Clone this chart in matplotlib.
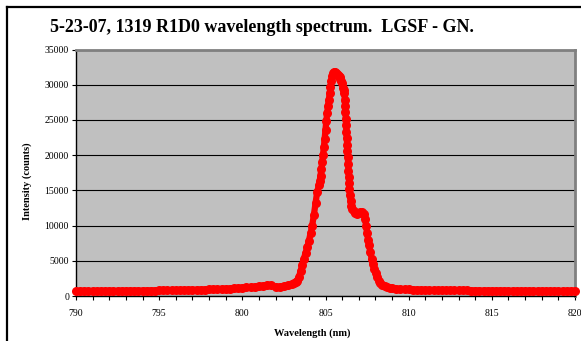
import numpy as np
import matplotlib.pyplot as plt
from matplotlib.lines import Line2D
from matplotlib.ticker import MultipleLocator

plt.rcParams['font.family'] = ['Liberation Serif', 'DejaVu Serif']

# wavelength (nm) and intensity (counts)
wavelength = [
    790.00, 790.25, 790.50, 790.75, 791.00, 791.25, 791.50, 791.75,
    792.00, 792.25, 792.50, 792.75, 793.00, 793.25, 793.50, 793.75,
    794.00, 794.25, 794.50, 794.75, 795.00, 795.25, 795.50, 795.75,
    796.00, 796.25, 796.50, 796.75, 797.00, 797.25, 797.50, 797.75,
    798.00, 798.25, 798.50, 798.75, 799.00, 799.25, 799.50, 799.75,
    800.00, 800.25, 800.50, 800.75, 801.00, 801.25, 801.50, 801.75,
    802.00, 802.25, 802.50, 802.75,
    803.00, 803.10, 803.20, 803.30, 803.40, 803.50, 803.60, 803.70,
    803.80, 803.90, 804.00, 804.10, 804.20, 804.30, 804.40, 804.50,
    804.60, 804.65, 804.70, 804.75, 804.80, 804.85, 804.90, 804.95,
    805.00, 805.05, 805.10, 805.15, 805.20, 805.25, 805.30, 805.35,
    805.40, 805.45, 805.50, 805.55, 805.60, 805.65, 805.70, 805.75,
    805.80, 805.85, 805.90, 805.95, 806.00, 806.05, 806.10,
    806.14, 806.16, 806.18, 806.20, 806.22, 806.24, 806.26, 806.28,
    806.30, 806.32, 806.34, 806.36, 806.38, 806.40, 806.42, 806.44,
    806.47, 806.51, 806.56, 806.62, 806.70, 806.80, 806.90, 807.00,
    807.10, 807.20, 807.30, 807.38, 807.44, 807.50, 807.56, 807.62,
    807.70, 807.78, 807.86, 807.94, 808.02, 808.10, 808.20, 808.30,
    808.40, 808.55, 808.70, 808.85, 809.00,
    809.25, 809.50, 809.75, 810.00, 810.25, 810.50, 810.75, 811.00,
    811.25, 811.50, 811.75, 812.00, 812.25, 812.50, 812.75, 813.00,
    813.25, 813.50, 813.75, 814.00, 814.25, 814.50, 814.75, 815.00,
    815.25, 815.50, 815.75, 816.00, 816.25, 816.50, 816.75, 817.00,
    817.25, 817.50, 817.75, 818.00, 818.25, 818.50, 818.75, 819.00,
    819.25, 819.50, 819.75, 820.00,
]
intensity = [
    700, 700, 710, 700, 710, 720, 710, 720,
    730, 720, 730, 740, 740, 750, 740, 760,
    760, 770, 780, 780, 790, 800, 800, 820,
    830, 840, 850, 860, 880, 890, 900, 920,
    940, 960, 980, 1000, 1030, 1060, 1100, 1140,
    1180, 1220, 1270, 1320, 1380, 1460, 1600, 1560,
    1300, 1330, 1400, 1500,
    1700, 1800, 1950, 2200, 2700, 3500, 4400, 5300,
    6100, 6900, 7800, 8900, 10000, 11500, 13200, 14800,
    15700, 16300, 17100, 18000, 19000, 20000, 21100, 22300,
    23600, 24900, 26000, 27000, 27900, 28800, 29700, 30500,
    31200, 31600, 31800, 31800, 31700, 31600, 31500, 31400,
    31300, 31100, 30800, 30500, 30200, 29600, 29200,
    28800, 27900, 27000, 26100, 25200, 24300, 23300, 22400,
    21500, 20600, 19700, 18700, 17800, 16900, 16000, 15200,
    14300, 13500, 12800, 12300, 12000, 11800, 11700, 11800,
    11900, 11900, 11600, 11000, 10000, 8900, 8000, 7200,
    6200, 5300, 4500, 3800, 3200, 2700, 2200, 1850,
    1600, 1400, 1250, 1150, 1100,
    1050, 1000, 970, 940, 920, 900, 880, 870,
    860, 850, 840, 830, 820, 810, 800, 800,
    790, 790, 780, 780, 770, 770, 760, 760,
    760, 750, 750, 750, 740, 740, 740, 740,
    730, 730, 730, 730, 720, 720, 720, 720,
    720, 720, 720, 720,
]

W, H = 581, 341
fig = plt.figure(figsize=(W / 100, H / 100), dpi=100)
ax = fig.add_axes([76 / W, 1 - 296 / H, (575 - 76) / W, (296 - 49.5) / H])

ax.set_facecolor('#C0C0C0')
ax.plot(wavelength, intensity, color='#FF0000', lw=4.5, marker='o',
        markersize=6.5, markeredgewidth=0, solid_capstyle='round',
        clip_on=False, zorder=3)

ax.set_xlim(790, 820)
ax.set_ylim(0, 35000)
ax.xaxis.set_major_locator(MultipleLocator(5))
ax.xaxis.set_minor_locator(MultipleLocator(1))
ax.yaxis.set_major_locator(MultipleLocator(5000))
ax.grid(axis='y', color='black', lw=0.8)
ax.set_axisbelow(True)

for s in ['top', 'right']:
    ax.spines[s].set_color('#808080')
    ax.spines[s].set_linewidth(2)
for s in ['left', 'bottom']:
    ax.spines[s].set_color('black')
    ax.spines[s].set_linewidth(1)

ax.tick_params(axis='both', which='major', labelsize=7, length=3,
               width=0.8, direction='out', pad=2)
ax.tick_params(axis='x', which='minor', length=3, width=0.8, direction='out')
ax.tick_params(axis='x', pad=6)

fig.text(50 / W, 1 - 28 / H, '5-23-07, 1319 R1D0 wavelength spectrum.  LGSF - GN.',
         fontsize=13, fontweight='bold', ha='left', va='center')
fig.text(27 / W, 1 - 181 / H, 'Intensity (counts)', fontsize=7.5,
         fontweight='bold', rotation=90, ha='center', va='center')
fig.text(312 / W, 1 - 333 / H, 'Wavelength (nm)', fontsize=7.5,
         fontweight='bold', ha='center', va='center')

# chart frame (left and top edges visible)
fig.add_artist(Line2D([7 / W, 7 / W], [0, 1 - 7 / H], color='black', lw=1.6))
fig.add_artist(Line2D([7 / W, 1], [1 - 7 / H, 1 - 7 / H], color='black', lw=1.6))

fig.savefig('out.png', dpi=100)
